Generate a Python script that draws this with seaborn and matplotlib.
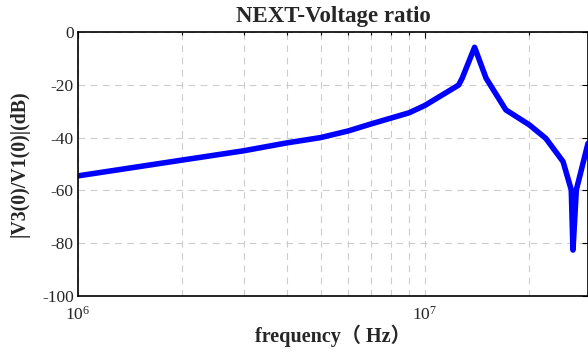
import numpy as np
import pandas as pd
import matplotlib
matplotlib.use("Agg")
import matplotlib.pyplot as plt
import seaborn as sns
from matplotlib.ticker import LogLocator, NullFormatter

freq = [1.0e6, 2.0e6, 3.0e6, 4.0e6, 5.0e6, 6.0e6, 7.0e6, 9.0e6, 1.0e7,
        1.25e7, 1.28e7, 1.39e7, 1.5e7, 1.71e7, 2.0e7, 2.23e7, 2.5e7,
        2.64e7, 2.67e7, 2.73e7, 2.95e7]
ratio_db = [-54.5, -48.5, -45.0, -42.0, -40.0, -37.5, -34.8, -30.6, -27.8,
            -20.1, -17.5, -5.8, -17.5, -29.5, -35.2, -40.3, -49.1,
            -59.8, -82.6, -59.8, -42.2]
title = "NEXT-Voltage ratio"
xlabel = "frequency（ Hz）"
ylabel = "|V3(0)/V1(0)|(dB)"

df = pd.DataFrame({"freq": freq, "db": ratio_db})

sns.set_theme(style="white")
plt.rcParams['font.family'] = ['Liberation Serif', 'Noto Sans CJK SC', 'DejaVu Sans']
plt.rcParams['mathtext.fontset'] = 'custom'
plt.rcParams['mathtext.rm'] = 'Liberation Serif'
plt.rcParams['mathtext.it'] = 'Liberation Serif'
plt.rcParams['axes.unicode_minus'] = False

fig = plt.figure(figsize=(5.88, 3.52), dpi=100)
ax = fig.add_axes([78/588, 1-296/352, 1-78/588, (296-32)/352])

sns.lineplot(data=df, x="freq", y="db", ax=ax, color=(0, 0, 1), linewidth=4.0,
             solid_joinstyle='round', solid_capstyle='round')
ax.set_xscale('log')
ax.set_xlim(1e6, 2.95e7)
ax.set_ylim(-100, 0)
ax.set_yticks([-100, -80, -60, -40, -20, 0])
ax.xaxis.set_major_locator(LogLocator(base=10, numticks=10))
ax.xaxis.set_minor_locator(LogLocator(base=10, subs=np.arange(2, 10), numticks=10))
ax.xaxis.set_minor_formatter(NullFormatter())

grid_kw = dict(color='#cccccc', linestyle=(0, (6, 5)), linewidth=0.8)
ax.grid(True, which='major', axis='both', **grid_kw)
ax.grid(True, which='minor', axis='x', **grid_kw)
ax.set_axisbelow(True)

ax.tick_params(which='both', direction='in', top=True, right=True,
               length=4, width=0.8, color='black', labelsize=12.5, pad=3)
ax.tick_params(axis='x', which='major', pad=7)
ax.tick_params(which='minor', length=2.5)
for s in ax.spines.values():
    s.set_color('black')
    s.set_linewidth(1.2)

ax.set_title(title, fontsize=16.5, fontweight='bold', pad=7)
ax.set_xlabel(xlabel, fontsize=14.5, fontweight='bold', labelpad=1)
ax.set_ylabel(ylabel, fontsize=14.3, fontweight='bold', labelpad=9)

fig.savefig("out.png", dpi=100)
